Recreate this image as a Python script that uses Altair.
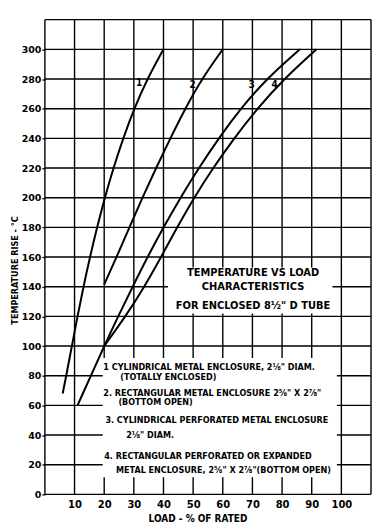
import altair as alt
import pandas as pd

# ---- data ----
load1 = [6, 7.2, 9.1, 11.0, 13.0, 15.2, 17.6, 20.2, 23.1, 26.4, 30.1, 34.5, 40]
temp1 = [68, 80, 100, 120, 140, 160, 180, 200, 220, 240, 260, 280, 300]
load2 = [20, 24.2, 28.5, 32.9, 37.5, 42.3, 47.3, 52.9, 60]
temp2 = [141.5, 160, 180, 200, 220, 240, 260, 280, 300]
load3 = [11, 20, 24.7, 29.6, 34.6, 40.0, 45.7, 51.9, 58.6, 66.0, 74.7, 86]
temp3 = [60, 100, 120, 140, 160, 180, 200, 220, 240, 260, 280, 300]
load4 = [20, 27.2, 33.6, 39.2, 44.6, 50.3, 56.7, 63.8, 71.6, 80.6, 91.6]
temp4 = [100, 120, 140, 160, 180, 200, 220, 240, 260, 280, 300]

curve_ids = ["1", "2", "3", "4"]
label_load = [31.8, 49.8, 69.7, 77.5]
label_temp = [277, 276, 276, 276]

x_grid = list(range(0, 111, 10))
y_grid = list(range(0, 321, 20))
x_ticks = list(range(10, 101, 10))
y_ticks = list(range(0, 301, 20))

title_lines = ["TEMPERATURE VS LOAD", "CHARACTERISTICS", "FOR ENCLOSED 8½\" D TUBE"]
title_x = [70.2, 70.2, 70.2]
title_y = [149, 139.7, 126.7]

legend_lines = [
    "1  CYLINDRICAL METAL ENCLOSURE, 2⅛\" DIAM.",
    "(TOTALLY ENCLOSED)",
    "2. RECTANGULAR METAL ENCLOSURE 2⅝\" X 2⅞\"",
    "(BOTTOM OPEN)",
    "3. CYLINDRICAL PERFORATED METAL ENCLOSURE",
    "2⅛\" DIAM.",
    "4. RECTANGULAR PERFORATED OR EXPANDED",
    "METAL ENCLOSURE, 2⅝\" X 2⅞\"(BOTTOM OPEN)",
]
legend_x = [19.7, 25.4, 19.7, 24.8, 20.4, 27.4, 20.0, 24.0]
legend_y = [85.6, 79.4, 68.2, 62.0, 50.4, 40.3, 26.2, 16.4]

# white panels behind the annotation blocks (data units)
box_x0 = [41.5, 19.5]
box_x1 = [97.0, 98.5]
box_y0 = [122, 11.5]
box_y1 = [153, 92]

FONT = "DejaVu Sans Condensed, DejaVu Sans"
FONT_W = "DejaVu Sans"

curves = pd.concat([
    pd.DataFrame({"load": l, "temp": t, "curve": c, "i": range(len(l))})
    for l, t, c in [(load1, temp1, "1"), (load2, temp2, "2"),
                    (load3, temp3, "3"), (load4, temp4, "4")]
])

xs = alt.Scale(domain=[0, 110], nice=False, zero=False)
ys = alt.Scale(domain=[0, 320], nice=False, zero=False)

AXX = alt.Axis(values=x_ticks, grid=False, domain=False, ticks=False,
               labelFont=FONT_W, labelFontSize=10, labelFontWeight="bold",
               labelColor="black", labelPadding=5,
               title="LOAD - % OF RATED", titleFont=FONT, titleFontSize=10,
               titleFontWeight="bold", titleColor="black",
               titleX=153, titleY=24, titleAnchor="middle", titleBaseline="middle")
AXY = alt.Axis(values=y_ticks, grid=False, domain=False, tickSize=3,
               tickColor="black", tickWidth=1.3,
               labelFont=FONT_W, labelFontSize=9.5, labelFontWeight="bold",
               labelColor="black", labelPadding=1,
               title="TEMPERATURE RISE - °C", titleFont=FONT, titleFontSize=9,
               titleFontWeight="bold", titleColor="black",
               titleX=-30, titleY=251, titleAngle=270,
               titleAlign="center", titleBaseline="middle")

gx = pd.DataFrame({"x": x_grid, "y0": 0, "y1": 320})
gy = pd.DataFrame({"y": y_grid, "x0": 0, "x1": 110})

vgrid = alt.Chart(gx).mark_rule(color="black", strokeWidth=1.4).encode(
    x=alt.X("x:Q", scale=xs, axis=AXX),
    y=alt.Y("y0:Q", scale=ys, axis=AXY), y2="y1:Q")
hgrid = alt.Chart(gy).mark_rule(color="black", strokeWidth=1.4).encode(
    x=alt.X("x0:Q", scale=xs, axis=AXX), x2="x1:Q",
    y=alt.Y("y:Q", scale=ys, axis=AXY))

boxes = alt.Chart(pd.DataFrame({"x0": box_x0, "x1": box_x1, "y0": box_y0, "y1": box_y1})
                  ).mark_rect(color="white").encode(
    x=alt.X("x0:Q", scale=xs, axis=AXX), x2="x1:Q",
    y=alt.Y("y0:Q", scale=ys, axis=AXY), y2="y1:Q")

lines = alt.Chart(curves).mark_line(color="black", strokeWidth=2,
                                     interpolate="basis").encode(
    x=alt.X("load:Q", scale=xs, axis=AXX),
    y=alt.Y("temp:Q", scale=ys, axis=AXY),
    detail="curve:N", order="i:Q")

clabels = alt.Chart(pd.DataFrame({"x": label_load, "y": label_temp, "t": curve_ids})
                    ).mark_text(font=FONT, fontSize=10, fontWeight="bold",
                                color="black").encode(
    x=alt.X("x:Q", scale=xs, axis=AXX),
    y=alt.Y("y:Q", scale=ys, axis=AXY), text="t:N")

titles = alt.Chart(pd.DataFrame({"x": title_x, "y": title_y, "t": title_lines})
                   ).mark_text(font=FONT, fontSize=11, fontWeight="bold",
                               color="black", align="center", baseline="middle").encode(
    x=alt.X("x:Q", scale=xs, axis=AXX),
    y=alt.Y("y:Q", scale=ys, axis=AXY), text="t:N")

legend = alt.Chart(pd.DataFrame({"x": legend_x, "y": legend_y, "t": legend_lines})
                   ).mark_text(font=FONT, fontSize=9, fontWeight="bold",
                               color="black", align="left", baseline="middle").encode(
    x=alt.X("x:Q", scale=xs, axis=AXX),
    y=alt.Y("y:Q", scale=ys, axis=AXY), text="t:N")

chart = alt.layer(vgrid, hgrid, boxes, lines, clabels, titles, legend).properties(
    width=327, height=476,
    autosize=alt.AutoSizeParams(type="none"),
    padding={"left": 37, "top": 11, "right": 3, "bottom": 28},
    background="white",
).configure_view(stroke=None)

chart.save("out.html", embed_options={"renderer": "svg", "actions": False})
